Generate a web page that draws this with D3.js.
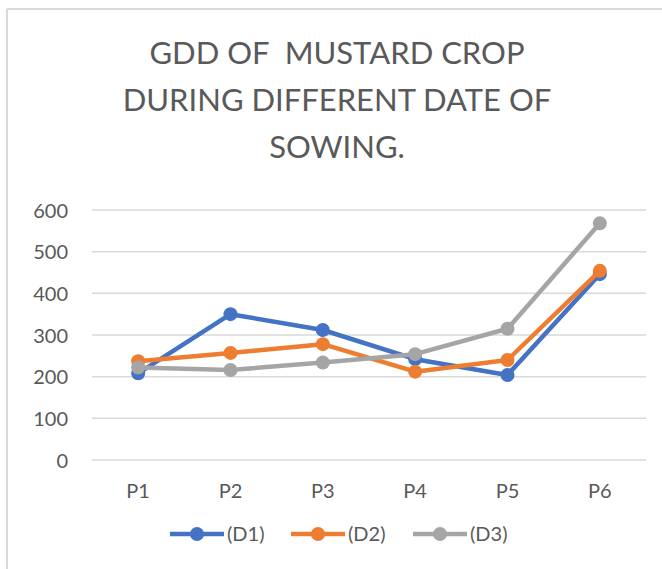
<!DOCTYPE html>
<html><head><meta charset="utf-8">
<script src="https://cdn.jsdelivr.net/npm/d3@7"></script>
<style>body{margin:0;background:#fff;} svg{display:block;}</style>
</head><body>
<svg id="c" width="662" height="569"></svg>
<script>
const categories = ["P1","P2","P3","P4","P5","P6"];
const seriesNames = ["(D1)","(D2)","(D3)"];
const d1 = [208, 350, 312, 242, 204, 446];
const d2 = [237, 257, 278, 212, 240, 454];
const d3v = [222, 216, 234, 254, 315, 568];
const yTicks = [0,100,200,300,400,500,600];
const titleLines = ["GDD OF  MUSTARD CROP","DURING DIFFERENT DATE OF","SOWING."];
const colors = ["#4472c4","#ed7d31","#a5a5a5"];
const seriesData = [d1,d2,d3v];

(function(){
const svg = d3.select("#c");
const font = "Lato, 'Open Sans', sans-serif";
svg.append("line").attr("x1",7).attr("x2",662).attr("y1",9).attr("y2",9).attr("stroke","#d9d9d9").attr("stroke-width",2);
svg.append("line").attr("x1",7).attr("x2",7).attr("y1",9).attr("y2",569).attr("stroke","#d9d9d9").attr("stroke-width",2);

svg.append("g").selectAll("text").data(titleLines).join("text")
  .attr("x",337).attr("y",(d,i)=>64+i*47)
  .attr("text-anchor","middle").attr("fill","#595959")
  .attr("font-family",font).attr("font-size",31)
  .style("white-space","pre").text(d=>d);

const pL=92,pR=646,pT=210,pB=460;
const x = d3.scaleBand().domain(categories).range([pL,pR]);
const y = d3.scaleLinear().domain([0,600]).range([pB,pT]);

svg.append("g").selectAll("line").data(yTicks).join("line")
  .attr("x1",pL).attr("x2",pR).attr("y1",d=>y(d)).attr("y2",d=>y(d))
  .attr("stroke","#d9d9d9").attr("stroke-width",1.5);

const yAxis = d3.axisLeft(y).tickValues(yTicks).tickSize(0).tickPadding(0);
const yg = svg.append("g").attr("transform",`translate(${pL-24},0)`).call(yAxis);
yg.select(".domain").remove();
yg.selectAll("text").attr("fill","#595959").attr("font-family",font).attr("font-size",20).attr("dy","0.35em");

const xAxis = d3.axisBottom(x).tickSize(0).tickPadding(0);
const xg = svg.append("g").attr("transform",`translate(0,${pB+24})`).call(xAxis);
xg.select(".domain").remove();
xg.selectAll("text").attr("fill","#595959").attr("font-family",font).attr("font-size",20).attr("dy","0.7em");

const line = d3.line().x((d,i)=>x(categories[i])+x.bandwidth()/2).y(d=>y(d));
seriesData.forEach((s,k)=>{
  const g = svg.append("g");
  g.append("path").datum(s).attr("d",line).attr("fill","none")
    .attr("stroke",colors[k]).attr("stroke-width",4.5).attr("stroke-linejoin","round");
  g.selectAll("circle").data(s).join("circle")
    .attr("cx",(d,i)=>x(categories[i])+x.bandwidth()/2).attr("cy",d=>y(d))
    .attr("r",7).attr("fill",colors[k]);
});

const legX = [170, 291, 413];
const lg = svg.append("g");
seriesNames.forEach((n,k)=>{
  const gx = legX[k], gy = 534;
  lg.append("line").attr("x1",gx).attr("x2",gx+54).attr("y1",gy).attr("y2",gy)
    .attr("stroke",colors[k]).attr("stroke-width",4.5);
  lg.append("circle").attr("cx",gx+27).attr("cy",gy).attr("r",7).attr("fill",colors[k]);
  lg.append("text").attr("x",gx+57).attr("y",gy).attr("dy","0.35em")
    .attr("fill","#595959").attr("font-family",font).attr("font-size",20).text(n);
});
})();
</script>
</body></html>
